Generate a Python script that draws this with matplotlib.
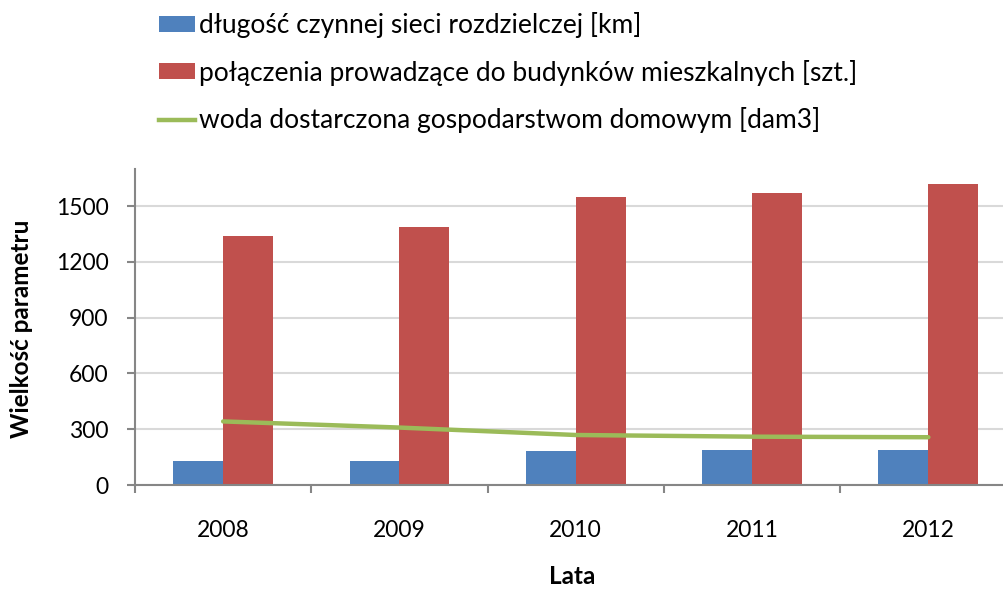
import numpy as np
import matplotlib
matplotlib.use("Agg")
import matplotlib.pyplot as plt
from matplotlib.lines import Line2D
from matplotlib.patches import Patch

# data
years = ["2008", "2009", "2010", "2011", "2012"]
siec_km = [129, 129, 183, 188, 188]
polaczenia_szt = [1339, 1387, 1548, 1570, 1618]
woda_dam3 = [342, 309, 269, 260, 257]

labels = [
    "długość czynnej sieci rozdzielczej [km]",
    "połączenia prowadzące do budynków mieszkalnych [szt.]",
    "woda dostarczona gospodarstwom domowym [dam3]",
]

BLUE = "#4F81BD"
RED = "#C0504D"
GREEN = "#9BBB59"
AXIS_GREY = "#868686"
GRID_GREY = "#D9D9D9"

plt.rcParams["font.family"] = ["Lato", "DejaVu Sans"]

W, H = 1004, 589
fig = plt.figure(figsize=(W / 100, H / 100), dpi=100)

# axes placed in pixel terms (the right edge runs past the image, as in the source)
left, right, top, bottom = 135, 1016.5, 169, 485
ax = fig.add_axes([left / W, 1 - bottom / H, (right - left) / W, (bottom - top) / H])

x = np.arange(len(years))
bw = 0.283
ax.bar(x - bw / 2, siec_km, width=bw, color=BLUE, zorder=2)
ax.bar(x + bw / 2, polaczenia_szt, width=bw, color=RED, zorder=2)
ax.plot(x, woda_dam3, color=GREEN, lw=3.2, solid_capstyle="round", zorder=3)

ax.set_xlim(-0.5, len(years) - 0.5)
ax.set_ylim(0, 1700)
ax.set_yticks(np.arange(0, 1501, 300))
ax.yaxis.grid(True, color=GRID_GREY, lw=1.5)
ax.set_axisbelow(True)

for s in ["top", "right"]:
    ax.spines[s].set_visible(False)
for s in ["left", "bottom"]:
    ax.spines[s].set_color(AXIS_GREY)
    ax.spines[s].set_linewidth(1.5)

ax.set_xticks(x)
ax.set_xticklabels(years)
ax.set_xticks(np.arange(-0.5, len(years), 1.0), minor=True)
ax.tick_params(axis="x", which="major", length=0, pad=25, labelsize=16.5)
ax.tick_params(axis="x", which="minor", length=6, width=1.5, color=AXIS_GREY)
ax.tick_params(axis="y", length=6, width=1.5, color=AXIS_GREY, pad=13, labelsize=16.5)

fig.text(22 / W, 1 - 329 / H, "Wielkość parametru", rotation=90, ha="center", va="center",
         fontsize=17.5, fontweight="bold")
fig.text((left + 881.5 / 2 - 4) / W, 1 - 576 / H, "Lata", ha="center", va="center",
         fontsize=17.5, fontweight="bold")

handles = [
    Patch(facecolor=BLUE, edgecolor="none"),
    Patch(facecolor=RED, edgecolor="none"),
    Line2D([0], [0], color=GREEN, lw=3.2),
]
fig.legend(handles, labels, loc="upper left", bbox_to_anchor=(159 / W, 1 - 12 / H),
           frameon=False, fontsize=19, handlelength=1.37, handleheight=0.57,
           handletextpad=0.16, labelspacing=0.82, borderpad=0, borderaxespad=0)

fig.savefig("out.png", dpi=100)
